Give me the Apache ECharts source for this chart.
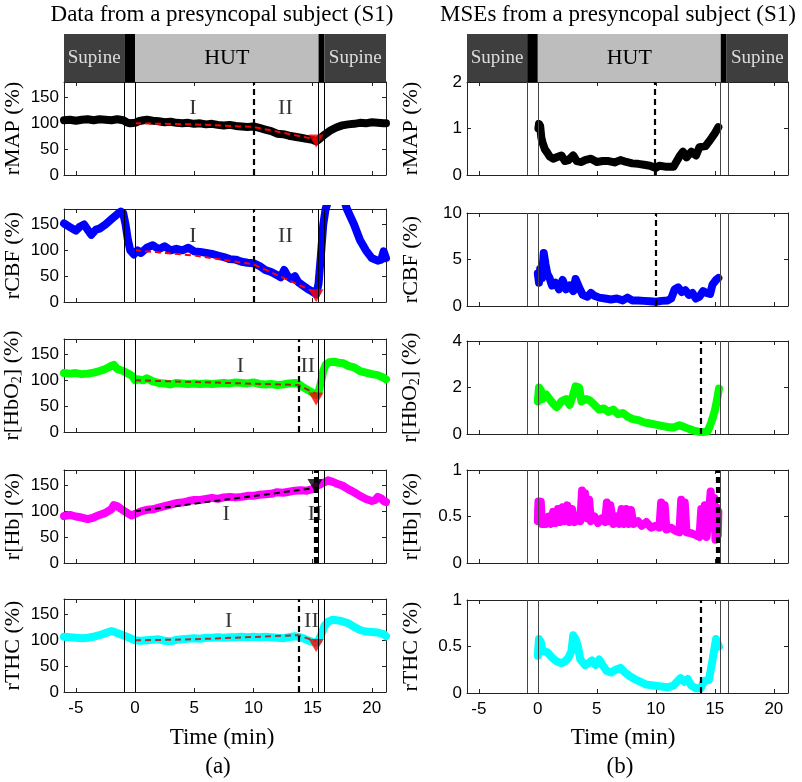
<!DOCTYPE html>
<html><head><meta charset="utf-8">
<script src="https://cdn.jsdelivr.net/npm/echarts@6/dist/echarts.min.js"></script>
<style>html,body{margin:0;padding:0;background:#fff}#c{width:802px;height:782px}</style>
</head><body><div id="c"></div><script>
// ---------- axes / categories ----------
const xMin = -6, xMax = 21.2;
const xTicks = [-5, 0, 5, 10, 15, 20];
const leftYMax = 180;
const leftYTicks = [0, 50, 100, 150];
const rightYMax = [2, 10, 4, 1, 1];
const rightYTicks = [[0, 1, 2], [0, 5, 10], [0, 2, 4], [0, 0.5, 1], [0, 0.5, 1]];
const rowNames = ['rMAP (%)', 'rCBF (%)', 'r[HbO{s|2}] (%)', 'r[Hb] (%)', 'rTHC (%)'];
const seriesColors = ['#000000', '#0000ff', '#00ff00', '#ff00ff', '#00ffff'];
const phaseBars = [[-6, -0.9, 'Supine', 'dark'], [-0.9, 0, '', 'black'], [0, 15.5, 'HUT', 'light'], [15.5, 16, '', 'black'], [16, 21.2, 'Supine', 'dark']];
const phaseLinesLeft = [-0.9, 0, 15.5, 16];
const phaseLinesRight = [-0.93, 0, 15.45, 16.1];
const dashLeft = [[10], [10], [13.85], [15.15, 15.35], [13.85]];
const dashRight = [[9.95], [10], [13.8], [15.2, 15.3], [13.8]];

// ---------- (a) raw data ----------
const lMAP = [[-6,106],[-5.5,107],[-5,105],[-4.5,107],[-4,108],[-3.5,106],[-3,108],[-2.5,107],[-2,106],[-1.5,108],[-1,106],[-0.7,102],[-0.4,100],[0,101],[0.3,104],[0.7,106],[1,107],[1.5,105],[2,104],[2.5,102],[3,103],[3.5,101],[4,100],[4.5,101],[5,99],[5.5,100],[6,98],[6.5,99],[7,97],[7.5,96],[8,97],[8.5,95],[9,94],[9.5,93],[10,94],[10.5,91],[11,88],[11.5,85],[12,80],[12.5,79],[13,76],[13.5,74],[14,72],[14.5,70],[15,68],[15.3,65],[15.6,70],[16,78],[16.5,86],[17,92],[17.5,96],[18,98],[18.5,99],[19,101],[19.5,100],[20,102],[20.5,101],[21,100],[21.2,100]];
const lCBF = [[-6,152],[-5.5,145],[-5,138],[-4.7,145],[-4.3,150],[-4,140],[-3.7,130],[-3.3,140],[-3,142],[-2.5,150],[-2,160],[-1.5,170],[-1.2,175],[-1,172],[-0.8,150],[-0.6,120],[-0.4,100],[-0.1,92],[0.2,100],[0.5,95],[1,105],[1.5,110],[2,102],[2.5,108],[3,100],[3.5,103],[4,100],[4.5,105],[5,98],[5.5,97],[6,95],[6.5,93],[7,90],[7.5,87],[8,83],[8.5,82],[9,78],[9.5,76],[10,75],[10.5,70],[11,62],[11.5,58],[12,52],[12.3,48],[12.6,62],[12.9,50],[13.2,45],[13.5,50],[13.8,38],[14,35],[14.3,30],[14.6,25],[15,20],[15.3,15],[15.5,35],[15.7,90],[15.9,150],[16.1,180],[16.3,195],[16.4,null],[17.7,195],[17.9,180],[18.2,165],[18.5,150],[19,120],[19.5,100],[20,85],[20.5,80],[20.8,82],[21,98],[21.2,85]];
const lHbO2 = [[-6,114],[-5.5,113],[-5,114],[-4.5,112],[-4,113],[-3.5,115],[-3,118],[-2.5,122],[-2,128],[-1.8,130],[-1.5,122],[-1,118],[-0.5,112],[-0.2,108],[0,100],[0.3,102],[0.7,100],[1,104],[1.5,98],[2,95],[2.5,94],[3,92],[3.5,95],[4,94],[4.5,93],[5,94],[5.5,93],[6,94],[6.5,93],[7,94],[7.5,95],[8,94],[8.5,96],[9,95],[9.5,94],[10,96],[10.5,93],[11,92],[11.5,93],[12,91],[12.5,92],[13,94],[13.5,95],[13.8,93],[14.1,88],[14.4,84],[14.7,80],[15,76],[15.3,72],[15.5,78],[15.7,95],[15.9,118],[16.1,130],[16.4,135],[16.8,136],[17.2,134],[17.6,133],[18,128],[18.5,125],[19,118],[19.5,115],[20,112],[20.5,110],[21,105],[21.2,102]];
const lHb = [[-6,91],[-5.5,93],[-5,90],[-4.5,88],[-4,85],[-3.5,88],[-3,93],[-2.5,97],[-2,104],[-1.8,112],[-1.5,110],[-1.2,105],[-1,102],[-0.6,96],[-0.3,92],[0,95],[0.5,100],[1,103],[1.5,104],[2,107],[2.5,110],[3,113],[3.5,116],[4,117],[4.5,120],[5,122],[5.5,122],[6,124],[6.5,126],[7,124],[7.5,127],[8,128],[8.5,127],[9,128],[9.5,130],[10,130],[10.5,132],[11,133],[11.5,134],[12,137],[12.5,136],[13,138],[13.5,140],[14,141],[14.5,140],[15,143],[15.3,148],[15.6,152],[16,156],[16.3,160],[16.7,157],[17,154],[17.5,150],[18,143],[18.5,137],[19,130],[19.5,124],[20,120],[20.3,122],[20.5,128],[20.8,125],[21,120],[21.2,118]];
const lTHC = [[-6,107],[-5.5,106],[-5,105],[-4.5,104],[-4,105],[-3.5,107],[-3,110],[-2.5,114],[-2,118],[-1.8,117],[-1.5,114],[-1,110],[-0.5,105],[0,100],[0.5,99],[1,100],[1.5,101],[2,102],[2.5,99],[3,98],[3.5,101],[4,102],[4.5,103],[5,104],[5.5,103],[6,105],[6.5,105],[7,106],[7.5,105],[8,106],[8.5,106],[9,107],[9.5,106],[10,107],[10.5,106],[11,107],[11.5,106],[12,105],[12.5,104],[13,106],[13.5,108],[13.8,107],[14.2,104],[14.6,100],[15,97],[15.3,95],[15.5,100],[15.8,115],[16,128],[16.3,136],[16.7,140],[17,139],[17.5,137],[18,133],[18.5,126],[19,120],[19.5,117],[20,116],[20.5,115],[21,112],[21.2,108]];

// fits, end markers, phase labels
const fitMAP = [[0,100],[5,98],[10,93],[15.3,69]];
const fitCBF = [[0,100],[5,90],[10,73],[15.3,18]];
const fitHbO2 = [[0,100],[13.8,91],[14.4,84],[15.3,74]];
const fitHb = [[0,100],[15.2,145]];
const fitTHC = [[0,100],[5,102],[13.8,110],[15.3,98]];
const triMAP = [[15.3,66]];
const triCBF = [[15.3,12]];
const triHbO2 = [[15.3,64]];
const triHb = [[15.2,150]];
const triTHC = [[15.3,90]];
const labMAP = [[4.9,130,'I'],[12.7,130,'II']];
const labCBF = [[4.9,127,'I'],[12.7,127,'II']];
const labHbO2 = [[8.9,127,'I'],[14.6,127,'II']];
const labHb = [[7.7,95,'I'],[15.2,95,'II']];
const labTHC = [[7.9,137,'I'],[14.9,137,'II']];

// ---------- (b) MSE data ----------
const mMAP = [[0.05,1.0],[0.1,1.1],[0.2,1.05],[0.3,0.8],[0.4,0.7],[0.6,0.55],[0.8,0.48],[1,0.4],[1.3,0.35],[1.6,0.38],[2,0.42],[2.3,0.3],[2.6,0.32],[3,0.42],[3.3,0.3],[3.7,0.28],[4,0.32],[4.5,0.35],[5,0.28],[5.5,0.3],[6,0.3],[6.5,0.27],[7,0.32],[7.5,0.28],[8,0.25],[8.5,0.24],[9,0.22],[9.5,0.2],[10,0.15],[10.3,0.2],[10.8,0.18],[11.5,0.18],[12,0.4],[12.3,0.5],[12.6,0.38],[13,0.5],[13.4,0.42],[13.7,0.6],[14.2,0.62],[14.6,0.75],[15,0.9],[15.3,1.03]];
const mCBF = [[0,3.5],[0.1,2.5],[0.2,4.0],[0.35,3.0],[0.5,5.7],[0.65,4.5],[0.8,3.5],[1,3.0],[1.2,2.2],[1.5,2.5],[1.8,1.8],[2.1,2.8],[2.4,1.8],[2.7,2.2],[3,1.6],[3.2,2.9],[3.5,2.0],[3.8,1.2],[4.2,1.0],[4.5,1.4],[4.8,1.1],[5.2,0.9],[5.7,0.8],[6.2,0.7],[6.7,0.8],[7.2,0.6],[7.6,0.9],[8,0.6],[8.5,0.6],[9,0.55],[9.5,0.5],[10,0.45],[10.5,0.55],[11,0.6],[11.3,0.8],[11.6,1.8],[11.9,2.0],[12.2,1.5],[12.5,1.7],[12.8,1.2],[13.1,1.4],[13.4,0.8],[13.7,1.0],[14,1.6],[14.3,1.4],[14.6,1.3],[14.8,2.3],[15.1,2.8],[15.3,3.0]];
const mHbO2 = [[0,1.4],[0.1,2.0],[0.25,1.9],[0.4,1.5],[0.7,1.7],[1,1.5],[1.3,1.3],[1.6,1.15],[2,1.4],[2.4,1.5],[2.7,1.25],[3,1.7],[3.2,2.05],[3.5,2.0],[3.7,1.4],[4.1,1.5],[4.4,1.45],[4.8,1.25],[5.2,1.05],[5.6,1.1],[6,0.95],[6.4,1.05],[6.8,0.85],[7.2,0.9],[7.6,0.75],[8,0.65],[8.5,0.6],[9,0.5],[9.5,0.45],[10,0.4],[10.5,0.35],[11,0.3],[11.5,0.28],[12,0.38],[12.4,0.3],[12.8,0.22],[13.2,0.15],[13.6,0.1],[14,0.08],[14.4,0.12],[14.7,0.5],[15,1.0],[15.2,1.5],[15.35,1.95]];
const mHb = [[0,0.45],[0.05,0.66],[0.15,0.45],[0.25,0.66],[0.35,0.42],[0.7,0.42],[0.9,0.5],[1.1,0.42],[1.3,0.55],[1.5,0.43],[1.7,0.58],[1.9,0.44],[2.1,0.6],[2.3,0.45],[2.5,0.62],[2.7,0.44],[2.9,0.58],[3.1,0.44],[3.4,0.5],[3.6,0.45],[3.75,0.78],[3.9,0.5],[4.0,0.75],[4.2,0.48],[4.35,0.68],[4.5,0.45],[4.8,0.5],[5.1,0.43],[5.4,0.48],[5.7,0.44],[5.85,0.65],[6.0,0.45],[6.15,0.62],[6.4,0.42],[6.7,0.5],[6.9,0.42],[7.1,0.58],[7.3,0.42],[7.5,0.58],[7.7,0.42],[7.9,0.57],[8.1,0.42],[8.5,0.45],[8.8,0.4],[9.2,0.44],[9.6,0.38],[10,0.4],[10.3,0.38],[10.45,0.65],[10.6,0.45],[10.75,0.62],[10.9,0.36],[11.3,0.38],[11.6,0.35],[12,0.33],[12.15,0.68],[12.3,0.4],[12.45,0.65],[12.6,0.33],[13,0.32],[13.4,0.3],[13.7,0.28],[13.85,0.58],[14.0,0.3],[14.15,0.62],[14.3,0.28],[14.5,0.55],[14.65,0.77],[14.8,0.45],[14.95,0.7],[15.05,0.25],[15.15,0.6],[15.25,0.3],[15.3,0.55]];
const mTHC = [[0,0.4],[0.1,0.58],[0.25,0.55],[0.4,0.45],[0.8,0.44],[1.2,0.38],[1.6,0.34],[2,0.32],[2.3,0.34],[2.6,0.38],[2.85,0.45],[3,0.62],[3.2,0.58],[3.4,0.5],[3.6,0.36],[4,0.3],[4.3,0.32],[4.6,0.35],[4.9,0.3],[5.2,0.36],[5.5,0.3],[5.8,0.24],[6.2,0.22],[6.6,0.25],[7,0.27],[7.4,0.22],[7.8,0.18],[8.2,0.15],[8.7,0.12],[9.2,0.09],[9.8,0.08],[10.5,0.07],[11,0.06],[11.5,0.08],[11.8,0.12],[12.1,0.16],[12.4,0.12],[12.7,0.15],[13,0.08],[13.4,0.05],[13.8,0.05],[14.1,0.13],[14.5,0.14],[14.8,0.35],[15.1,0.58],[15.25,0.6],[15.35,0.5]];

// ---------- build ----------
const SERIF = '"Liberation Serif","Times New Roman",serif';
const SANS = '"Liberation Sans",Arial,sans-serif';
const AX = '#222';
const leftData = [lMAP, lCBF, lHbO2, lHb, lTHC];
const rightData = [mMAP, mCBF, mHbO2, mHb, mTHC];
const leftFits = [fitMAP, fitCBF, fitHbO2, fitHb, fitTHC];
const fitColors = ['#ff0000', '#ff0000', '#a0281e', '#000000', '#b0302a'];
const leftTris = [triMAP, triCBF, triHbO2, triHb, triTHC];
const triColors = ['#ff0000', '#ff0000', '#ff0000', '#000000', '#ff0000'];
const leftLabs = [labMAP, labCBF, labHbO2, labHb, labTHC];

const colLeft = [64, 467], colWidth = [322, 321];
const rowTop = [[82, 209, 339, 470, 599], [82, 213, 341, 470, 600]];
const rowH = 93;
const barTop = 34, barH = 48;

const grids = [], xAxes = [], yAxes = [], series = [];
for (let col = 0; col < 2; col++) {
  for (let row = 0; row < 5; row++) {
    const g = col * 5 + row;
    grids.push({ left: colLeft[col], top: rowTop[col][row], width: colWidth[col], height: rowH });
    const axLine = { show: true, onZero: false, lineStyle: { color: AX, width: 1 } };
    xAxes.push({ gridIndex: g, type: 'value', min: xMin, max: xMax, position: 'bottom',
      axisLine: axLine, splitLine: { show: false },
      axisTick: { show: true, inside: true, length: 4, customValues: xTicks, lineStyle: { color: AX } },
      axisLabel: { show: row === 4, customValues: xTicks, fontFamily: SANS, fontSize: 17, color: '#000', margin: 8 } });
    xAxes.push({ gridIndex: g, type: 'value', min: xMin, max: xMax, position: 'top',
      axisLine: axLine, splitLine: { show: false },
      axisTick: { show: true, inside: true, length: 4, customValues: xTicks, lineStyle: { color: AX } },
      axisLabel: { show: false } });
    const ymax = col === 0 ? leftYMax : rightYMax[row];
    const yt = col === 0 ? leftYTicks : rightYTicks[row];
    yAxes.push({ gridIndex: g, type: 'value', min: 0, max: ymax, position: 'left',
      axisLine: axLine, splitLine: { show: false },
      axisTick: { show: true, inside: true, length: 4, customValues: yt, lineStyle: { color: AX } },
      axisLabel: { customValues: yt, fontFamily: SANS, fontSize: 17, color: '#000', margin: 5 },
      name: rowNames[row], nameLocation: 'middle', nameRotate: 90, nameGap: col === 0 ? 40 : 45,
      nameTextStyle: { fontFamily: SERIF, fontSize: 22, color: '#000',
        rich: { s: { fontFamily: SERIF, fontSize: 14, color: '#000', padding: [9, 0, 0, 0] } } } });
    yAxes.push({ gridIndex: g, type: 'value', min: 0, max: ymax, position: 'right',
      axisLine: axLine, splitLine: { show: false },
      axisTick: { show: true, inside: true, length: 4, customValues: yt, lineStyle: { color: AX } },
      axisLabel: { show: false } });

    const vl = col === 0 ? phaseLinesLeft : phaseLinesRight;
    const dl = col === 0 ? dashLeft[row] : dashRight[row];
    const ml = vl.map(v => ({ xAxis: v }))
      .concat(dl.map(v => ({ xAxis: v, lineStyle: { type: [6, 4], width: 2.2, color: '#000' } })));
    series.push({ type: 'line', xAxisIndex: 2 * g, yAxisIndex: 2 * g, animation: false,
      data: col === 0 ? leftData[row] : rightData[row], symbol: 'none', connectNulls: false,
      lineStyle: { color: seriesColors[row], width: 8, cap: 'round', join: 'round' },
      markLine: { silent: true, symbol: ['none', 'none'], animation: false, label: { show: false },
        lineStyle: { color: col === 0 ? '#000' : '#444', width: 1, type: 'solid' }, data: ml } });
    if (col === 0) {
      series.push({ type: 'line', xAxisIndex: 2 * g, yAxisIndex: 2 * g, animation: false,
        data: leftFits[row], symbol: 'none',
        lineStyle: { color: fitColors[row], width: 2, type: [6, 4] }, z: 3 });
      series.push({ type: 'scatter', xAxisIndex: 2 * g, yAxisIndex: 2 * g, animation: false,
        data: leftTris[row], symbol: 'triangle', symbolRotate: 180, symbolSize: [15, 13],
        itemStyle: { color: triColors[row] }, z: 4 });
      series.push({ type: 'scatter', xAxisIndex: 2 * g, yAxisIndex: 2 * g, animation: false,
        data: leftLabs[row], symbolSize: 0, z: 5,
        label: { show: true, position: 'inside', formatter: p => p.value[2],
          fontFamily: SERIF, fontSize: 22, color: '#000' } });
    }
  }
}
// phase bars
for (let col = 0; col < 2; col++) {
  const g = 10 + col;
  grids.push({ left: colLeft[col], top: barTop, width: colWidth[col], height: barH });
  xAxes.push({ gridIndex: g, type: 'value', min: xMin, max: xMax, show: false });
  yAxes.push({ gridIndex: g, type: 'value', min: 0, max: 1, show: false });
  const barColors = { dark: '#3e3e3e', black: '#000000', light: '#bdbdbd' };
  series.push({ type: 'line', xAxisIndex: 20 + col, yAxisIndex: 20 + col, animation: false,
    data: [[xMin, 0.5]], symbol: 'none', lineStyle: { width: 0, opacity: 0 },
    markArea: { silent: true, animation: false,
      data: phaseBars.map(b => [
        { xAxis: b[0], name: b[2], itemStyle: { color: barColors[b[3]] },
          label: { show: b[2] !== '', position: 'inside', fontFamily: SERIF,
            fontSize: b[3] === 'light' ? 22 : 19, color: b[3] === 'light' ? '#000' : '#dddddd' } },
        { xAxis: b[1] }
      ]) } });
}

const chart = echarts.init(document.getElementById('c'), null, { renderer: 'canvas' });
chart.setOption({
  animation: false,
  backgroundColor: '#fff',
  grid: grids, xAxis: xAxes, yAxis: yAxes, series: series,
  graphic: [
    { type: 'text', x: 222, y: 15, style: { text: 'Data from a presyncopal subject (S1)', font: '23px ' + SERIF, fill: '#000', align: 'center', verticalAlign: 'middle' } },
    { type: 'text', x: 618, y: 15, style: { text: 'MSEs from a presyncopal subject (S1)', font: '23px ' + SERIF, fill: '#000', align: 'center', verticalAlign: 'middle' } },
    { type: 'text', x: 222, y: 738, style: { text: 'Time (min)', font: '23px ' + SERIF, fill: '#000', align: 'center', verticalAlign: 'middle' } },
    { type: 'text', x: 623, y: 738, style: { text: 'Time (min)', font: '23px ' + SERIF, fill: '#000', align: 'center', verticalAlign: 'middle' } },
    { type: 'text', x: 218, y: 767, style: { text: '(a)', font: '23px ' + SERIF, fill: '#000', align: 'center', verticalAlign: 'middle' } },
    { type: 'text', x: 620, y: 767, style: { text: '(b)', font: '23px ' + SERIF, fill: '#000', align: 'center', verticalAlign: 'middle' } }
  ]
});
</script></body></html>
